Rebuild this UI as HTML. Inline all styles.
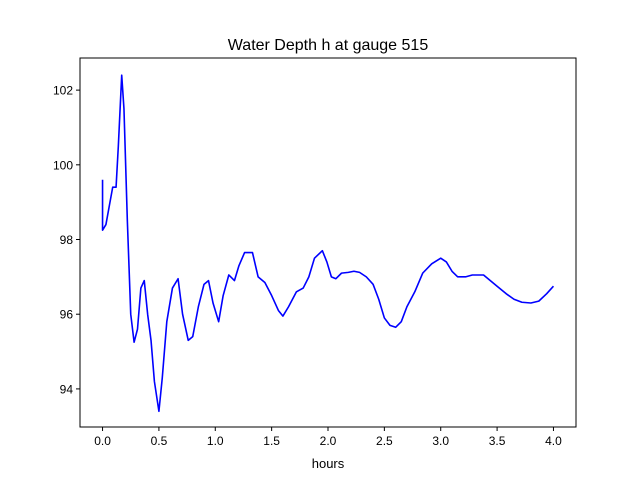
<!DOCTYPE html>
<html><head><meta charset="utf-8"><style>
body{margin:0;background:#fff;}
svg{display:block;font-family:"Liberation Sans",sans-serif;}
</style></head><body>
<svg id="chart" width="640" height="480">
<rect width="640" height="480" fill="#fff"/>
<text x="328" y="50" font-size="16" text-anchor="middle">Water Depth h at gauge 515</text>
<text x="328" y="468" font-size="13" text-anchor="middle">hours</text>
<g id="plot"></g>
<rect x="80" y="58" width="496" height="369" fill="none" stroke="#000" stroke-width="1"/>
</svg>
<script>
const hours=[0,0,0.03,0.06,0.09,0.12,0.14,0.17,0.19,0.22,0.25,0.28,0.31,0.34,0.37,0.40,0.43,0.46,0.50,0.53,0.57,0.62,0.67,0.71,0.76,0.80,0.85,0.90,0.94,0.98,1.03,1.07,1.12,1.17,1.21,1.26,1.33,1.38,1.44,1.5,1.56,1.60,1.65,1.72,1.78,1.83,1.88,1.95,1.99,2.03,2.07,2.12,2.18,2.23,2.28,2.34,2.40,2.45,2.50,2.55,2.60,2.65,2.70,2.77,2.84,2.92,3.0,3.05,3.10,3.15,3.22,3.28,3.33,3.38,3.44,3.50,3.58,3.65,3.72,3.80,3.87,3.94,4.0];
const depth=[99.6,98.25,98.4,98.9,99.4,99.4,100.5,102.4,101.5,98.5,96.0,95.25,95.6,96.7,96.9,96.0,95.3,94.2,93.4,94.3,95.8,96.7,96.95,96.0,95.3,95.4,96.2,96.8,96.9,96.3,95.8,96.5,97.05,96.9,97.3,97.65,97.65,97.0,96.85,96.5,96.1,95.95,96.2,96.6,96.7,97.0,97.5,97.7,97.4,97.0,96.95,97.1,97.12,97.15,97.12,97.0,96.8,96.4,95.9,95.7,95.65,95.8,96.2,96.6,97.1,97.35,97.5,97.4,97.15,97.0,97.0,97.05,97.05,97.05,96.9,96.75,96.55,96.4,96.32,96.3,96.35,96.55,96.75];
const xTicks=[0,0.5,1,1.5,2,2.5,3,3.5,4];
const xTickLabels=["0.0","0.5","1.0","1.5","2.0","2.5","3.0","3.5","4.0"];
const yTicks=[94,96,98,100,102];
const yTickLabels=["94","96","98","100","102"];
const X0=-0.2,X1=4.2,Y0=92.98,Y1=102.86;
const L=80,R=576,T=58,B=427;
const sx=v=>L+(v-X0)/(X1-X0)*(R-L);
const sy=v=>B-(v-Y0)/(Y1-Y0)*(B-T);
const NS="http://www.w3.org/2000/svg";
const g=document.getElementById('plot');
function mk(t,a){const e=document.createElementNS(NS,t);for(const k in a)e.setAttribute(k,a[k]);return e;}
xTicks.forEach((v,i)=>{
 const l=mk('line',{x1:sx(v),x2:sx(v),y1:B,y2:B+4,stroke:'#000'});
 
 
 g.appendChild(l);
 const t=mk('text',{x:sx(v),y:B+18,'font-size':12,'text-anchor':'middle'});
 t.textContent=xTickLabels[i];
 
 
 g.appendChild(t);
});
yTicks.forEach((v,i)=>{
 const l=mk('line',{x1:L-4,x2:L,y1:sy(v),y2:sy(v),stroke:'#000'});
 
 
 g.appendChild(l);
 const t=mk('text',{x:L-7,y:sy(v)+4.5,'font-size':12,'text-anchor':'end'});
 t.textContent=yTickLabels[i];
 
 
 g.appendChild(t);
});
const pts=hours.map((h,i)=>sx(h).toFixed(2)+','+sy(depth[i]).toFixed(2)).join(' ');
const line=mk('polyline',{points:pts,fill:'none',stroke:'#0000ff','stroke-width':1.6,'stroke-linejoin':'round'});


g.appendChild(line);
</script>
</body></html>
